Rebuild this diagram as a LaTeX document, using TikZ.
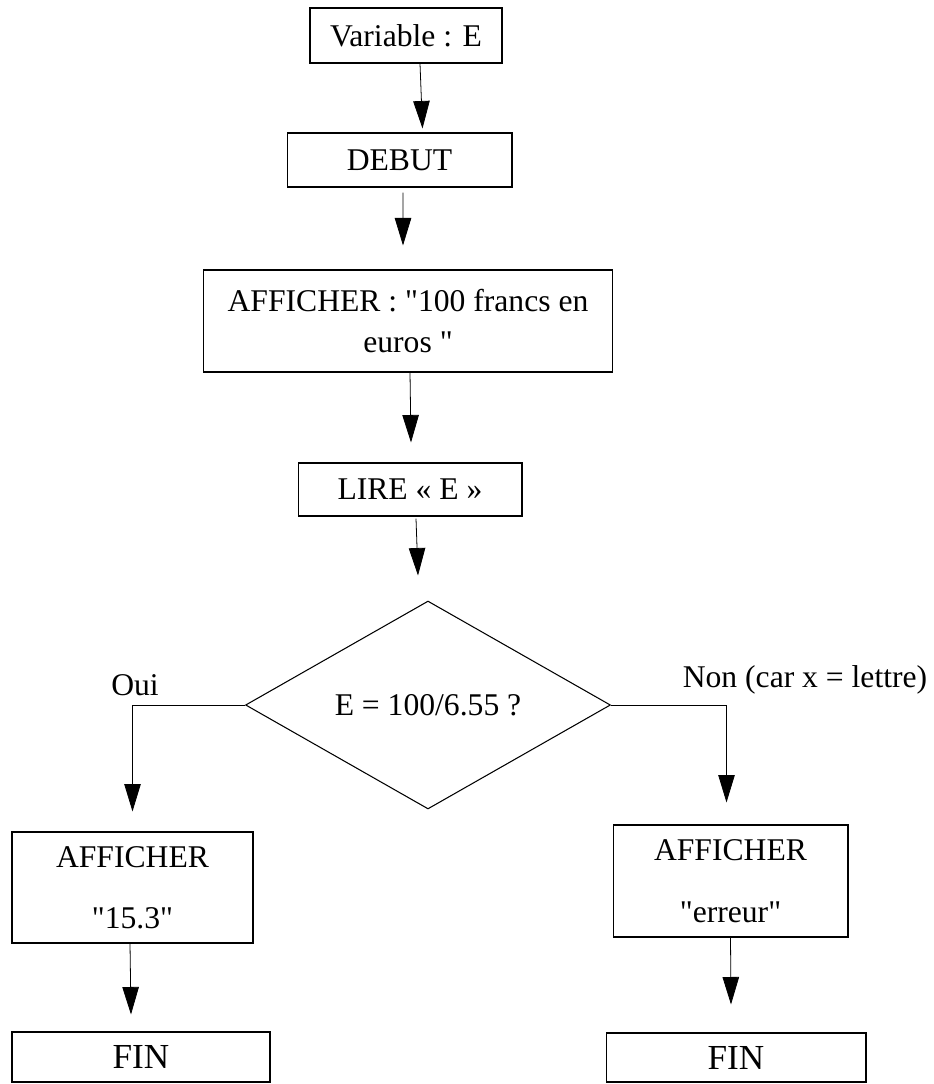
\documentclass[tikz,border=0pt]{standalone}
\usepackage{fontspec}
\setmainfont{Liberation Serif}[Ligatures=TeXOff]
\usetikzlibrary{shapes.geometric,arrows.meta}
\tikzset{main box/.style={draw,line width=0.6pt,inner sep=2pt,align=center,font=\fontsize{18}{22}\selectfont},
	decision/.style={diamond,draw,line width=0.6pt,inner sep=0pt,font=\fontsize{18}{22}\selectfont},
	end box/.style={main box,font=\fontsize{20}{24}\selectfont},
	branch label/.style={font=\fontsize{18}{22}\selectfont},
	fleche/.style={-{Triangle[length=5.5mm,width=3.3mm]},line width=0.45pt},}

\begin{document}
\begin{tikzpicture}[x=0.02cm,y=-0.02cm]
        \useasboundingbox (0,0) rectangle (933,1084);
        % Nodes
        \node[main box,minimum width=3.84cm,minimum height=1.1cm] (var) at (406,35.5) {Variable : E};
        \node[main box,minimum width=4.5cm,minimum height=1.08cm] (debut) at (399.5,160) {DEBUT};
        \node[main box,minimum width=8.2cm,minimum height=2.04cm,font=\fontsize{18}{22.8}\selectfont] (affiche) at (408,321) {AFFICHER : "100 francs en\\euros "};
        \node[main box,minimum width=4.48cm,minimum height=1.06cm] (lire) at (410,489.5) {LIRE « E »};
        \node[decision,minimum width=7.3cm,minimum height=3.6cm] (test) at (428,705) {E = 100/6.55 ?};
        \node[branch label] (oui) at (135,685) {Oui};
        \node[branch label] (non) at (805,680) {Non (car x = lettre)};
        \node[main box,minimum width=4.82cm,minimum height=2.22cm,font=\fontsize{18}{35}\selectfont] (affg) at (132.5,887.5) {AFFICHER\\"15.3"};
        \node[main box,minimum width=4.7cm,minimum height=2.24cm,font=\fontsize{18}{35}\selectfont] (affd) at (730.5,881) {AFFICHER\\"erreur"};
        \node[end box,minimum width=5.16cm,minimum height=1.0cm] (fing) at (141,1057) {FIN};
        \node[end box,minimum width=5.2cm,minimum height=0.98cm] (find) at (736,1057.5) {FIN};
        % Paths
        \draw[fleche] ([xshift=2.8mm]var.south) -- ([xshift=4.6mm,yshift=0.8mm]debut.north);
        \draw[fleche] ([xshift=0.7mm,yshift=-1mm]debut.south) -- ([xshift=-1mm,yshift=4.8mm]affiche.north);
        \draw[fleche] ([xshift=0.4mm]affiche.south) -- ([xshift=0.2mm,yshift=4mm]lire.north);
        \draw[fleche] ([xshift=1.2mm,yshift=-0.4mm]lire.south) -- ([xshift=-2mm,yshift=5mm]test.north);
        \draw[fleche] (test.west) -| ([yshift=4mm]affg.north);
        \draw[fleche] (test.east) -| ([xshift=-0.8mm,yshift=4.4mm]affd.north);
        \draw[fleche] ([xshift=-0.5mm]affg.south) -- ([xshift=-2mm,yshift=3.4mm]fing.north);
        \draw[fleche] (affd.south) -- ([xshift=-1mm,yshift=5.6mm]find.north);
\end{tikzpicture}
\end{document}
